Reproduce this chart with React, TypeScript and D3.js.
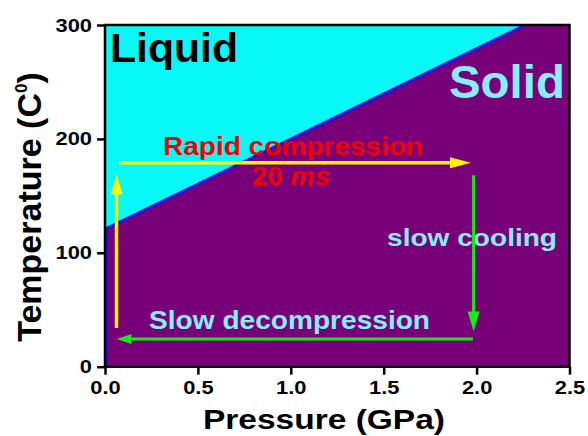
import React, { useEffect, useRef } from "react";
import * as d3 from "d3";

// axis ticks
const xTicks = [0, 0.5, 1.0, 1.5, 2.0, 2.5];
const yTicks = [0, 100, 200, 300];

// liquid / solid boundary (GPa, °C)
const boundaryP = [0, 2.26];
const boundaryT = [121, 300];

// process arrows (from -> tip)
const riseP = [0.062, 0.062];
const riseT = [34, 169];
const compressP = [0.075, 1.97];
const compressT = [179, 179];
const coolP = [1.984, 1.984];
const coolT = [168, 31];
const decompressP = [1.98, 0.062];
const decompressT = [24.3, 24.3];

const W = 588;
const H = 436;
const margin = { top: 25, right: 18.5, bottom: 69.3, left: 105 };

const LIQUID = "#08F8F8";
const SOLID = "#780078";
const EDGE = "#0A14E6";
const YELLOW = "#FFF500";
const GREEN = "#12EE12";
const RED = "#F20000";
const PALE = "#86EEF6";
const FONT = "'Liberation Sans', Arial, sans-serif";

const App = () => {
  const ref = useRef<SVGSVGElement>(null);

  useEffect(() => {
    const svg = d3.select(ref.current);
    svg.selectAll("*").remove();

    const x = d3.scaleLinear().domain([0, 2.5]).range([margin.left, W - margin.right]);
    const y = d3.scaleLinear().domain([0, 300]).range([H - margin.bottom, margin.top]);

    // solid background
    svg
      .append("rect")
      .attr("x", x(0))
      .attr("y", y(300))
      .attr("width", x(2.5) - x(0))
      .attr("height", y(0) - y(300))
      .attr("fill", SOLID);

    const boundary = boundaryP.map((p, i) => ({ p, t: boundaryT[i] }));

    // liquid region
    svg
      .append("path")
      .datum(boundary)
      .attr(
        "d",
        d3
          .area<any>()
          .x((d) => x(d.p))
          .y0(y(300))
          .y1((d) => y(d.t))
      )
      .attr("fill", LIQUID);

    svg
      .append("path")
      .datum(boundary)
      .attr(
        "d",
        d3
          .line<any>()
          .x((d) => x(d.p))
          .y((d) => y(d.t))
      )
      .attr("fill", "none")
      .attr("stroke", EDGE)
      .attr("stroke-width", 2.5);

    // blue edge of solid region along the left side
    svg
      .append("line")
      .attr("x1", x(0) + 1.5)
      .attr("x2", x(0) + 1.5)
      .attr("y1", y(0))
      .attr("y2", y(boundaryT[0]))
      .attr("stroke", EDGE)
      .attr("stroke-width", 2);

    // frame
    svg
      .append("rect")
      .attr("x", x(0))
      .attr("y", y(300))
      .attr("width", x(2.5) - x(0))
      .attr("height", y(0) - y(300))
      .attr("fill", "none")
      .attr("stroke", "#000")
      .attr("stroke-width", 2.5);

    // annotations
    const addText = (p, t, size, color, width, str, italicPart?) => {
      const el = svg
        .append("text")
        .attr("x", x(p))
        .attr("y", y(t))
        .attr("font-family", FONT)
        .attr("font-weight", "bold")
        .attr("font-size", size)
        .attr("fill", color)
        .attr("textLength", width)
        .attr("lengthAdjust", "spacingAndGlyphs");
      el.append("tspan").text(str);
      if (italicPart) el.append("tspan").attr("font-style", "italic").text(italicPart);
      return el;
    };

    addText(0.027, 267.6, 40, "#000", 128, "Liquid");
    addText(1.851, 236, 47, PALE, 116, "Solid");
    addText(0.312, 185.8, 25, RED, 260, "Rapid compression");
    addText(0.791, 159.5, 25, RED, 78, "20 ", "ms");
    addText(1.518, 106, 24, PALE, 170, "slow cooling");
    addText(0.237, 33, 25, PALE, 281, "Slow decompression");

    // arrows
    const arrows = [
      { p: riseP, t: riseT, color: YELLOW, w: 3.5, len: 20, half: 6 },
      { p: compressP, t: compressT, color: YELLOW, w: 3.5, len: 21, half: 5.5 },
      { p: coolP, t: coolT, color: GREEN, w: 3, len: 20, half: 6 },
      { p: decompressP, t: decompressT, color: GREEN, w: 3, len: 15, half: 5 },
    ];

    arrows.forEach((a) => {
      const x0 = x(a.p[0]);
      const y0 = y(a.t[0]);
      const x1 = x(a.p[1]);
      const y1 = y(a.t[1]);
      const L = Math.hypot(x1 - x0, y1 - y0);
      const ux = (x1 - x0) / L;
      const uy = (y1 - y0) / L;
      const bx = x1 - ux * a.len;
      const by = y1 - uy * a.len;
      svg
        .append("line")
        .attr("x1", x0)
        .attr("y1", y0)
        .attr("x2", bx + ux * 2)
        .attr("y2", by + uy * 2)
        .attr("stroke", a.color)
        .attr("stroke-width", a.w);
      svg
        .append("path")
        .attr(
          "d",
          `M${x1},${y1}L${bx - uy * a.half},${by + ux * a.half}L${bx + uy * a.half},${by - ux * a.half}Z`
        )
        .attr("fill", a.color);
    });

    // axes
    const styleAxis = (g) => {
      g.select(".domain").remove();
      g.selectAll(".tick line").attr("stroke", "#000").attr("stroke-width", 2.5);
      g.selectAll(".tick text")
        .attr("fill", "#000")
        .attr("font-family", FONT)
        .attr("font-weight", "bold")
        .attr("font-size", 19)
        .each(function () {
          const w = (this as SVGTextElement).getComputedTextLength();
          d3.select(this).attr("textLength", w * 1.15).attr("lengthAdjust", "spacingAndGlyphs");
        });
    };

    svg
      .append("g")
      .attr("transform", `translate(0,${y(0)})`)
      .call(d3.axisBottom(x).tickValues(xTicks).tickFormat(d3.format(".1f")).tickSize(8).tickPadding(6))
      .call(styleAxis);

    svg
      .append("g")
      .attr("transform", `translate(${x(0)},0)`)
      .call(d3.axisLeft(y).tickValues(yTicks).tickSize(8).tickPadding(5))
      .call(styleAxis);

    // axis titles
    svg
      .append("text")
      .attr("x", 324)
      .attr("y", 429)
      .attr("text-anchor", "middle")
      .attr("font-family", FONT)
      .attr("font-weight", "bold")
      .attr("font-size", 28)
      .attr("textLength", 242)
      .attr("lengthAdjust", "spacingAndGlyphs")
      .text("Pressure (GPa)");

    const yTitle = svg
      .append("text")
      .attr("transform", "translate(41,207) rotate(-90)")
      .attr("text-anchor", "middle")
      .attr("font-family", FONT)
      .attr("font-weight", "bold")
      .attr("font-size", 34);
    yTitle.append("tspan").text("Temperature (C");
    yTitle.append("tspan").attr("font-size", 17).attr("dy", -14).text("0");
    yTitle.append("tspan").attr("dy", 14).text(")");

    return () => {
      svg.selectAll("*").remove();
    };
  }, []);

  return (
    <svg
      ref={ref}
      width={W}
      height={H}
      style={{ position: "absolute", left: 0, top: 0, background: "#fff" }}
    />
  );
};

export default App;
